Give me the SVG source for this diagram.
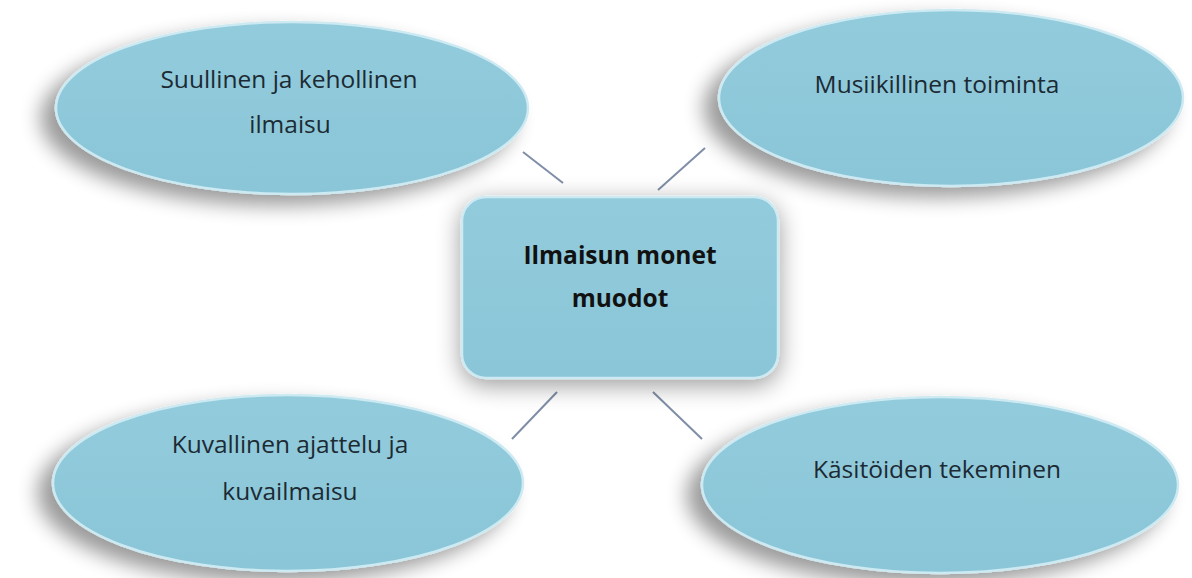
<svg xmlns="http://www.w3.org/2000/svg" width="1192" height="578" viewBox="0 0 1192 578">
<defs>
<filter id="shLeft" x="-20%" y="-30%" width="140%" height="160%">
<feGaussianBlur in="SourceAlpha" stdDeviation="10"/>
<feOffset dx="-14" dy="10" result="b"/>
<feComponentTransfer><feFuncA type="linear" slope="0.4"/></feComponentTransfer>
<feMerge><feMergeNode/><feMergeNode in="SourceGraphic"/></feMerge>
</filter>
<filter id="shRect" x="-20%" y="-30%" width="140%" height="160%">
<feGaussianBlur in="SourceAlpha" stdDeviation="12"/>
<feOffset dx="0" dy="6" result="b"/>
<feComponentTransfer><feFuncA type="linear" slope="0.4"/></feComponentTransfer>
<feMerge><feMergeNode/><feMergeNode in="SourceGraphic"/></feMerge>
</filter>
<linearGradient id="fill" x1="0" y1="0" x2="0" y2="1">
<stop offset="0" stop-color="#92cbdc"/>
<stop offset="1" stop-color="#8ac6d8"/>
</linearGradient>
</defs>
<style>
.node{fill:url(#fill);stroke:#cdeaf2;stroke-width:2.5}
.lbl{font-family:"Open Sans","Liberation Sans",sans-serif;font-size:24.5px;fill:#1c2a33;text-anchor:middle}
.bold{font-weight:bold;fill:#111}
.conn{stroke:#7f8ea6;stroke-width:2;fill:none}
</style>
<rect width="1192" height="578" fill="#ffffff"/>
<g id="connectors">
<line class="conn" x1="523" y1="152" x2="563" y2="183"/>
<line class="conn" x1="705" y1="148" x2="658" y2="190"/>
<line class="conn" x1="557" y1="392" x2="512" y2="439"/>
<line class="conn" x1="653" y1="392" x2="702" y2="439"/>
</g>
<g id="node-center">
<rect class="node" x="462" y="197" width="316" height="181" rx="24" filter="url(#shRect)"/>
<text class="lbl bold" x="620" y="264">Ilmaisun monet</text>
<text class="lbl bold" x="620" y="307">muodot</text>
</g>
<g id="node-tl">
<ellipse class="node" cx="292" cy="108" rx="236" ry="86" filter="url(#shLeft)"/>
<text class="lbl" x="289" y="88">Suullinen ja kehollinen</text>
<text class="lbl" x="290" y="133">ilmaisu</text>
</g>
<g id="node-tr">
<ellipse class="node" cx="951" cy="98" rx="232" ry="88" filter="url(#shLeft)"/>
<text class="lbl" x="937" y="93">Musiikillinen toiminta</text>
</g>
<g id="node-bl">
<ellipse class="node" cx="288" cy="483" rx="235" ry="88" filter="url(#shLeft)"/>
<text class="lbl" x="290" y="453">Kuvallinen ajattelu ja</text>
<text class="lbl" x="290" y="500">kuvailmaisu</text>
</g>
<g id="node-br">
<ellipse class="node" cx="940" cy="485" rx="238" ry="88" filter="url(#shLeft)"/>
<text class="lbl" x="937" y="478">Käsitöiden tekeminen</text>
</g>
</svg>
